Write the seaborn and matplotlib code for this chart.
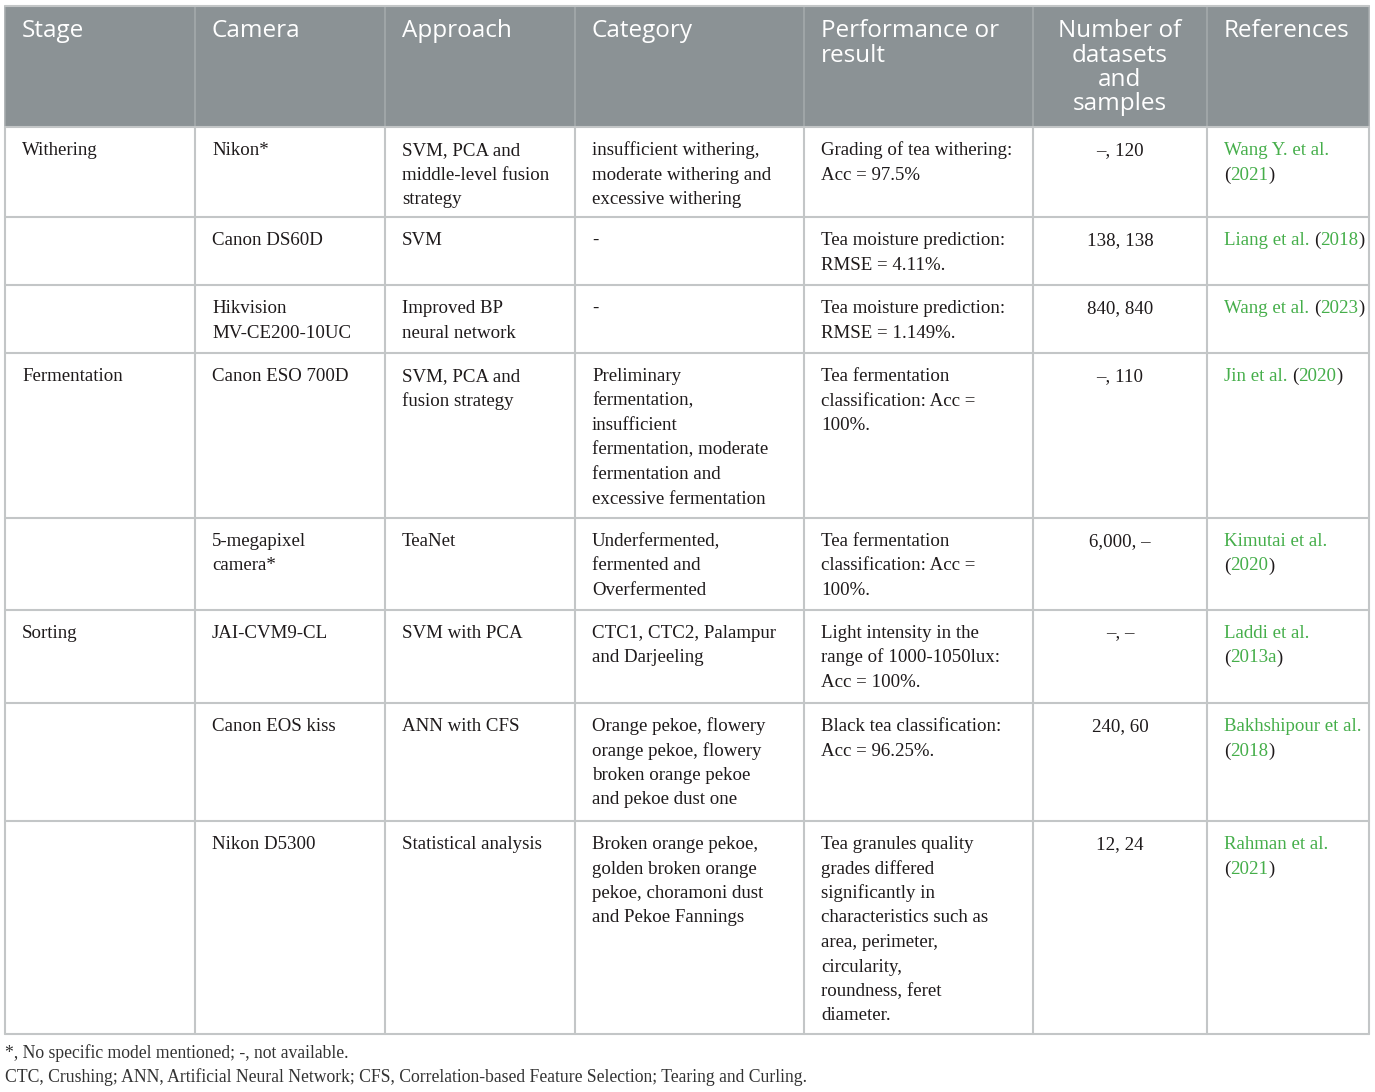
import seaborn as sns
import matplotlib.pyplot as plt
from matplotlib.patches import Rectangle

# table content
headers = ["Stage", "Camera", "Approach", "Category", "Performance or\nresult",
           "Number of\ndatasets\nand\nsamples", "References"]
stages = ["Withering", "", "", "Fermentation", "", "Sorting", "", ""]
cameras = ["Nikon*", "Canon DS60D", "Hikvision\nMV-CE200-10UC", "Canon ESO 700D",
           "5-megapixel\ncamera*", "JAI-CVM9-CL", "Canon EOS kiss", "Nikon D5300"]
approaches = ["SVM, PCA and\nmiddle-level fusion\nstrategy", "SVM", "Improved BP\nneural network",
              "SVM, PCA and\nfusion strategy", "TeaNet", "SVM with PCA", "ANN with CFS",
              "Statistical analysis"]
categories = ["insufficient withering,\nmoderate withering and\nexcessive withering", "-", "-",
              "Preliminary\nfermentation,\ninsufficient\nfermentation, moderate\nfermentation and\nexcessive fermentation",
              "Underfermented,\nfermented and\nOverfermented",
              "CTC1, CTC2, Palampur\nand Darjeeling",
              "Orange pekoe, flowery\norange pekoe, flowery\nbroken orange pekoe\nand pekoe dust one",
              "Broken orange pekoe,\ngolden broken orange\npekoe, choramoni dust\nand Pekoe Fannings"]
performance = ["Grading of tea withering:\nAcc = 97.5%",
               "Tea moisture prediction:\nRMSE = 4.11%.",
               "Tea moisture prediction:\nRMSE = 1.149%.",
               "Tea fermentation\nclassification: Acc =\n100%.",
               "Tea fermentation\nclassification: Acc =\n100%.",
               "Light intensity in the\nrange of 1000-1050lux:\nAcc = 100%.",
               "Black tea classification:\nAcc = 96.25%.",
               "Tea granules quality\ngrades differed\nsignificantly in\ncharacteristics such as\narea, perimeter,\ncircularity,\nroundness, feret\ndiameter."]
datasets = ["\u2013, 120", "138, 138", "840, 840", "\u2013, 110", "6,000, \u2013", "\u2013, \u2013",
            "240, 60", "12, 24"]
references = ["Wang Y. et al.\n(2021)", "Liang et al. (2018)", "Wang et al. (2023)",
              "Jin et al. (2020)", "Kimutai et al.\n(2020)", "Laddi et al.\n(2013a)",
              "Bakhshipour et al.\n(2018)", "Rahman et al.\n(2021)"]
footnotes = ["*, No specific model mentioned; -, not available.",
             "CTC, Crushing; ANN, Artificial Neural Network; CFS, Correlation-based Feature Selection; Tearing and Curling."]

# layout (pixels)
col_edges = [5, 195, 385, 575, 804, 1033, 1207, 1369]
row_edges = [127, 217, 285, 353, 518, 610, 703, 821, 1034]
header_top = 6
line_h = 24.5
pad_x = 17
body_fs = 13.6

header_bg = "#8b9295"
grid_col = "#c3c6c7"
text_col = "#1e1a1b"
link_col = "#45ae4a"

sns.set_theme(style="white")
plt.rcParams["font.family"] = ["Liberation Serif", "DejaVu Serif"]

fig = plt.figure(figsize=(13.75, 10.92), dpi=100)
ax = fig.add_axes([0, 0, 1, 1])
ax.set_xlim(0, 1375)
ax.set_ylim(1092, 0)
ax.axis("off")

# header band
ax.add_patch(Rectangle((col_edges[0], header_top), col_edges[-1] - col_edges[0],
                       row_edges[0] - header_top, facecolor=header_bg, edgecolor="none"))

for i, h in enumerate(headers):
    for k, line in enumerate(h.split("\n")):
        if i == 5:
            x = (col_edges[i] + col_edges[i + 1]) / 2
            ha = "center"
        else:
            x = col_edges[i] + pad_x
            ha = "left"
        ax.text(x, 37 + k * line_h, line, ha=ha, va="baseline", color="white",
                fontsize=17.5, family=["Open Sans", "DejaVu Sans"])

renderer = fig.canvas.get_renderer()


def draw_ref(x, y, line):
    # green link text, black parentheses
    segs = []
    cur = ""
    for ch in line:
        if ch in "()":
            if cur:
                segs.append((cur, link_col))
                cur = ""
            segs.append((ch, text_col))
        else:
            cur += ch
    if cur:
        segs.append((cur, link_col))
    for s, c in segs:
        t = ax.text(x, y, s, ha="left", va="baseline", color=c, fontsize=body_fs)
        bb = t.get_window_extent(renderer)
        x += bb.width


columns = [stages, cameras, approaches, categories, performance, datasets]
for r in range(len(stages)):
    base = row_edges[r] + 28
    for c, col in enumerate(columns):
        for k, line in enumerate(col[r].split("\n")):
            if c == 5:
                ax.text((col_edges[c] + col_edges[c + 1]) / 2, base + k * line_h, line,
                        ha="center", va="baseline", color=text_col, fontsize=body_fs)
            else:
                ax.text(col_edges[c] + pad_x, base + k * line_h, line,
                        ha="left", va="baseline", color=text_col, fontsize=body_fs)
    for k, line in enumerate(references[r].split("\n")):
        draw_ref(col_edges[6] + pad_x, base + k * line_h, line)

# grid lines
for x in col_edges:
    ax.plot([x, x], [header_top, row_edges[0]], color="#a4a9ab", lw=1.2)
    ax.plot([x, x], [row_edges[0], row_edges[-1]], color=grid_col, lw=1.5)
for y in row_edges:
    ax.plot([col_edges[0], col_edges[-1]], [y, y], color=grid_col, lw=1.5)
ax.plot([col_edges[0], col_edges[-1]], [header_top, header_top], color=grid_col, lw=1.5)

for k, note in enumerate(footnotes):
    ax.text(5, 1058 + k * 24.5, note, ha="left", va="baseline", color="#333333", fontsize=12.7)

fig.savefig("out.png", dpi=100)
